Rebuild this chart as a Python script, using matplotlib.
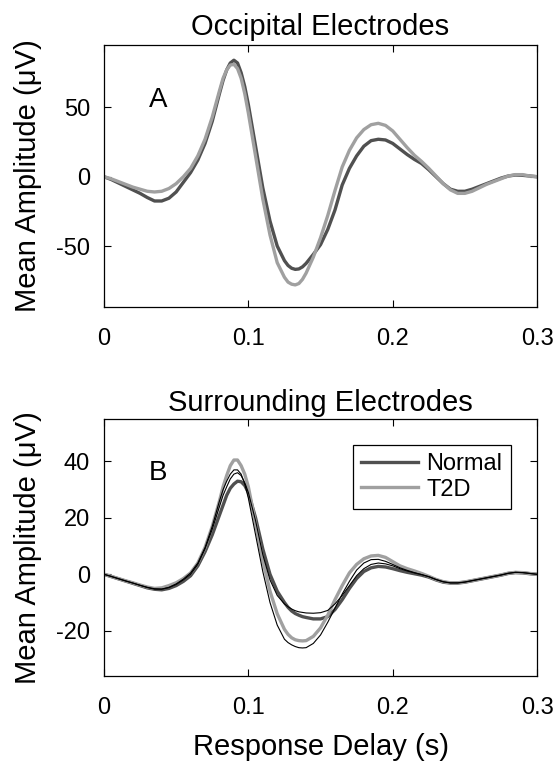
import numpy as np
import matplotlib
matplotlib.use("Agg")
import matplotlib.pyplot as plt

plt.rcParams['font.family'] = ['Liberation Sans', 'DejaVu Sans']
plt.rcParams['axes.unicode_minus'] = False

# time axis (s): 5 ms steps, with extra samples around the main peak and trough
t = np.r_[np.arange(17) * 0.005,
          [0.0825, 0.085, 0.0875, 0.09, 0.0925, 0.095, 0.0975, 0.1],
          [0.105, 0.11, 0.115, 0.12, 0.125],
          [0.1275, 0.13, 0.1325, 0.135, 0.1375, 0.14],
          0.145 + np.arange(32) * 0.005]

# Panel A - occipital electrodes
occ_normal = [0, -2, -4.5, -7, -9.5, -12, -15, -17.5, -17.5, -15.5, -11, -4, 3, 12, 24, 40, 60,
              69.5, 77, 82, 84, 82, 75, 65, 52,
              22, -8, -32, -50, -60.5,
              -64, -66, -66.8, -66.5, -65, -62.5,
              -56, -49, -38, -24, -6, 6, 15, 22, 26, 27,
              26.5, 24, 20, 16, 12.5, 9.5, 5, 0, -5, -9,
              -10.5, -10.5, -9, -7, -5, -3, -1, 0.5, 1.2, 1, 0.5, 0]
occ_t2d = [0, -1.5, -3.5, -5.5, -7.5, -9, -10.5, -11, -10.5, -8.5, -5, 0, 6, 15, 27, 43, 62,
           71, 77, 80.5, 81, 78, 71, 60, 46,
           15, -16, -42, -62, -72.5,
           -76, -77.5, -78, -77, -74, -69.5,
           -58, -44, -28, -10, 7, 19, 28, 34, 37.5, 38.5,
           37, 33, 27, 21, 15.5, 11, 6, 0.5, -5, -9.5,
           -12, -12, -10.5, -8, -5.5, -3.5, -1.5, 0.5, 1.5, 1.5, 0.5, 0]

# Panel B - surrounding electrodes
sur_normal = [0, -0.8, -1.6, -2.4, -3.2, -4, -4.8, -5.3, -5.5, -5, -4, -2.5, -0.5, 3, 8, 14, 21,
              24.5, 28, 30.5, 32, 33, 32.8, 31.5, 29,
              20, 9, 0, -6, -10,
              -11.7, -13, -13.9, -14.5, -15, -15.3,
              -15.8, -15.8, -15, -12.5, -9, -5, -1.5, 1, 2.3, 2.8,
              2.6, 2, 1.3, 0.7, 0.2, -0.3, -1, -2, -2.8, -3.1,
              -3.1, -2.8, -2.3, -1.8, -1.3, -0.8, -0.3, 0.3, 0.6, 0.5, 0.2, 0]
sur_t2d = [0, -0.7, -1.5, -2.3, -3, -3.8, -4.5, -5, -4.8, -4, -3, -1.5, 0.5, 4, 9.5, 17, 26,
           31, 35, 38.5, 40.5, 40.5, 38.5, 35.5, 31,
           18, 5, -6, -14, -19.5,
           -21.3, -22.5, -23.2, -23.5, -23.6, -23.5,
           -22, -19, -14.5, -9, -4, 0.5, 3.5, 5.5, 6.5, 6.7,
           6, 4.5, 3, 2, 1.2, 0.3, -0.7, -1.8, -2.6, -3,
           -3, -2.7, -2.2, -1.7, -1.2, -0.7, -0.2, 0.4, 0.7, 0.6, 0.3, 0]
sur_thin1 = [0, -0.8, -1.6, -2.4, -3.1, -3.9, -4.6, -5.1, -5.2, -4.7, -3.6, -2, 0, 3.5, 9, 16, 24,
             28, 31, 33.8, 35.5, 36, 35, 32.5, 29,
             19, 7, -2, -7.5, -10.5,
             -11.5, -12.3, -12.9, -13.3, -13.5, -13.7,
             -13.8, -13.6, -12.8, -10.5, -7.5, -4, -0.5, 2, 3.5, 4,
             3.7, 3, 2, 1.2, 0.5, -0.1, -0.8, -1.8, -2.6, -3,
             -3, -2.7, -2.2, -1.7, -1.2, -0.7, -0.2, 0.4, 0.7, 0.6, 0.3, 0]
sur_thin2 = [0, -0.7, -1.5, -2.3, -3.1, -3.9, -4.7, -5.3, -5.3, -4.6, -3.4, -1.7, 0.5, 4, 9.5, 17, 26,
             30, 33, 35.5, 37, 37, 35.5, 32, 27,
             14, 1, -10, -18, -23,
             -24.2, -25, -25.6, -26, -26.1, -26,
             -24.5, -21.5, -17, -12, -7, -2.5, 1.5, 4, 5.2, 5.3,
             4.6, 3.5, 2.3, 1.4, 0.6, -0.1, -0.9, -1.9, -2.7, -3.1,
             -3.1, -2.8, -2.3, -1.8, -1.3, -0.8, -0.3, 0.3, 0.7, 0.6, 0.3, 0]

dark = '#505050'
light = '#a0a0a0'

fig = plt.figure(figsize=(5.56, 7.62), dpi=100)
axA = fig.add_axes([0.187, 0.597, 0.779, 0.344])
axB = fig.add_axes([0.187, 0.113, 0.779, 0.337])

def style(ax):
    ax.set_xlim(0, 0.3)
    ax.set_xticks([0, 0.1, 0.2, 0.3])
    ax.set_xticklabels(['0', '0.1', '0.2', '0.3'])
    ax.tick_params(direction='in', top=True, right=True, labelsize=17,
                   length=5, width=0.8)
    ax.tick_params(axis='x', pad=15)
    ax.tick_params(axis='y', pad=10)
    for s in ax.spines.values():
        s.set_linewidth(0.9)
    ax.set_ylabel('Mean Amplitude (\u03bcV)', fontsize=21, labelpad=10)

axA.plot(t, occ_normal, color=dark, lw=2.4, label='Normal')
axA.plot(t, occ_t2d, color=light, lw=2.4, label='T2D')
axA.set_ylim(-94, 95)
axA.set_yticks([-50, 0, 50])
axA.set_title('Occipital Electrodes', fontsize=21, pad=7)
axA.text(0.031, 55, 'A', fontsize=20, va='center')
style(axA)

axB.plot(t, sur_normal, color=dark, lw=2.4, label='Normal')
axB.plot(t, sur_t2d, color=light, lw=2.4, label='T2D')
axB.plot(t, sur_thin1, color='black', lw=0.8)
axB.plot(t, sur_thin2, color='black', lw=0.8)
axB.set_ylim(-36, 55)
axB.set_yticks([-20, 0, 20, 40])
axB.set_title('Surrounding Electrodes', fontsize=21, pad=6)
axB.text(0.031, 36, 'B', fontsize=20, va='center')
axB.set_xlabel('Response Delay (s)', fontsize=21, labelpad=10)
style(axB)

leg = axB.legend(loc='upper right', bbox_to_anchor=(0.939, 0.90), fontsize=17,
                 handlelength=2.4, handletextpad=0.35, borderpad=0.35,
                 labelspacing=0.15, fancybox=False, framealpha=1,
                 edgecolor='black', borderaxespad=0)
leg.get_frame().set_linewidth(0.9)

fig.savefig('out.png', dpi=100)
